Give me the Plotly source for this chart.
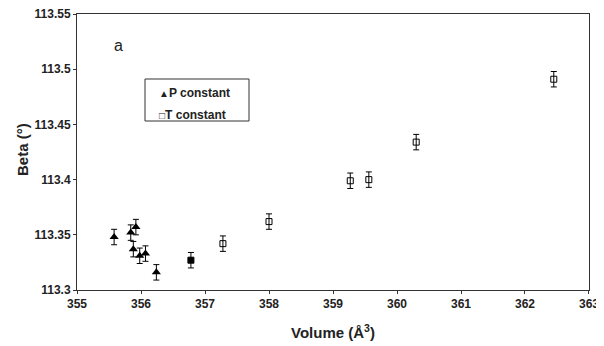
import plotly.graph_objects as go

# P constant (triangles)
p_vol = [355.58, 355.84, 355.92, 355.88, 355.98, 356.07, 356.24]
p_beta = [113.348, 113.352, 113.357, 113.337, 113.331, 113.333, 113.316]
p_err = [0.007, 0.007, 0.007, 0.007, 0.007, 0.007, 0.007]

# T constant (squares)
t_vol = [356.78, 357.28, 358.00, 359.27, 359.56, 360.30, 362.45]
t_beta = [113.327, 113.342, 113.362, 113.399, 113.400, 113.434, 113.491]
t_err = [0.007, 0.007, 0.007, 0.007, 0.007, 0.007, 0.007]

x_ticks = [355, 356, 357, 358, 359, 360, 361, 362, 363]
y_ticks = [113.3, 113.35, 113.4, 113.45, 113.5, 113.55]
y_tick_text = ["113.3", "113.35", "113.4", "113.45", "113.5", "113.55"]

font_family = "Liberation Sans, Arial, sans-serif"

# page body has an 8px default margin; compensate
OFF = 8
W, H = 604 - OFF, 346 - OFF
PL, PT, PW, PH = 77, 14, 512, 276  # plot area in window pixels
L = PL - OFF
T = PT - OFF
R = W - L - PW
B = H - T - PH


def px(xp):
    return (xp - PL) / PW


def py(yp):
    return (PT + PH - yp) / PH


fig = go.Figure()
fig.add_trace(go.Scatter(
    x=p_vol, y=p_beta, mode="markers", name="P constant",
    marker=dict(symbol="triangle-up", size=8, color="black"),
    error_y=dict(type="data", array=p_err, color="black", thickness=1, width=3),
    showlegend=False,
))
t_symbols = ["square"] + ["square-open"] * (len(t_vol) - 1)
fig.add_trace(go.Scatter(
    x=t_vol, y=t_beta, mode="markers", name="T constant",
    marker=dict(symbol=t_symbols, size=6, color="black", line=dict(width=1, color="black")),
    error_y=dict(type="data", array=t_err, color="black", thickness=1, width=3),
    showlegend=False,
))

fig.update_layout(
    width=W, height=H,
    margin=dict(l=L, r=R, t=T, b=B),
    paper_bgcolor="white", plot_bgcolor="white",
    font=dict(family=font_family, color="#222222"),
    xaxis=dict(
        range=[355, 363.0001], tickvals=x_ticks, ticks="outside", ticklen=3,
        tickcolor="#333", showline=True, linecolor="#333", linewidth=1, mirror=True,
        showgrid=False, zeroline=False, automargin=False, ticklabeloverflow="allow",
        tickfont=dict(size=12, family=font_family, weight="bold"),
    ),
    yaxis=dict(
        range=[113.3, 113.5501], tickvals=y_ticks, ticktext=y_tick_text, ticks="outside", ticklen=3,
        tickcolor="#333", showline=True, linecolor="#333", linewidth=1, mirror=True,
        showgrid=False, zeroline=False, automargin=False, ticklabeloverflow="allow",
        tickfont=dict(size=12, family=font_family, weight="bold"),
    ),
    shapes=[dict(type="rect", xref="paper", yref="paper",
                 x0=px(145), x1=px(249), y0=py(121), y1=py(79),
                 line=dict(color="#333", width=1), fillcolor="white", layer="above")],
    annotations=[
        dict(text="a", xref="paper", yref="paper", x=px(118), y=py(45),
             showarrow=False, font=dict(size=16, family=font_family), xanchor="center", yanchor="middle"),
        dict(text="<span style='font-size:10px'>▲</span><b>P constant</b>", xref="paper", yref="paper",
             x=px(157), y=py(93),
             showarrow=False, font=dict(size=12, family=font_family), xanchor="left", yanchor="middle"),
        dict(text="<span style='font-size:10px'>□</span><b>T constant</b>", xref="paper", yref="paper",
             x=px(157), y=py(115),
             showarrow=False, font=dict(size=12, family=font_family), xanchor="left", yanchor="middle"),
        dict(text="<b>Beta (°)</b>", xref="paper", yref="paper", x=px(22), y=py(150),
             showarrow=False, textangle=-90, font=dict(size=15, family=font_family),
             xanchor="center", yanchor="middle"),
        dict(text="<b>Volume (Å<sup>3</sup>)</b>", xref="paper", yref="paper", x=px(333), y=py(331),
             showarrow=False, font=dict(size=15, family=font_family),
             xanchor="center", yanchor="middle"),
    ],
)

fig.write_html("out.html")
